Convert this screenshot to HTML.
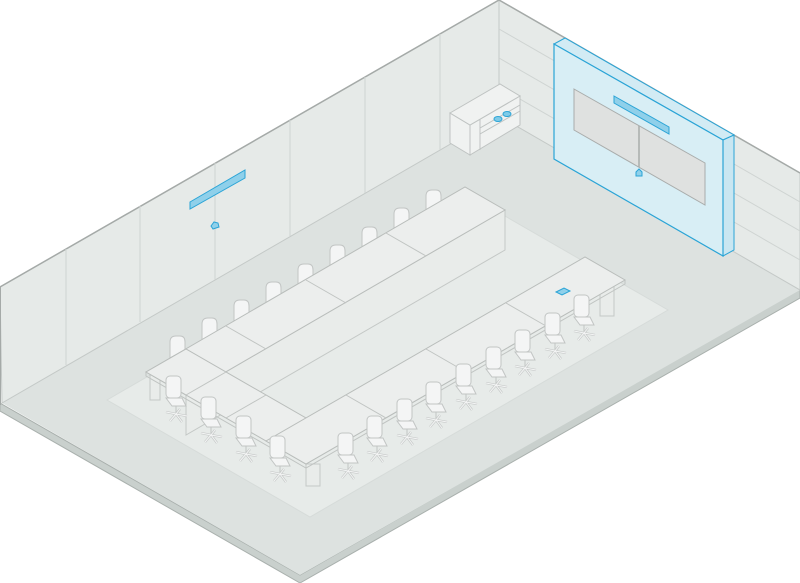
<!DOCTYPE html>
<html><head><meta charset="utf-8"><style>html,body{margin:0;padding:0;background:#fff}svg{display:block}</style></head>
<body>
<svg width="800" height="583" viewBox="0 0 800 583" xmlns="http://www.w3.org/2000/svg">
<defs>
<g id="fc" fill="#f4f5f5" stroke="#c2c5c4" stroke-width="1">
 <rect x="0" y="0" width="15" height="22" rx="4"/>
 <path d="M0,22 L6,30 L20,30 L16,22 Z"/>
 <line x1="10" y1="30" x2="10" y2="37"/>
 <path d="M10,38 L0,36 M10,38 L4,45 M10,38 L16,46 M10,38 L21,40 M10,38 L14,33" stroke-width="2.4" stroke="#c8cbca"/>
 <path d="M10,38 L0,36 M10,38 L4,45 M10,38 L16,46 M10,38 L21,40 M10,38 L14,33" stroke-width="1" stroke="#f4f5f5"/>
</g>
<g id="bc" fill="#f4f5f5" stroke="#c2c5c4" stroke-width="1">
 <path d="M0,22 L0,6 Q0,0 6,0 L10,0 Q15,0 15,6 L15,14 Z"/>
</g>
</defs>
<!-- slab -->
<polygon points="0,403 300,575 800,288 800,298 300,583 0,411" fill="#c9d0cd" stroke="#a9b0ad" stroke-width="1"/>
<!-- floor -->
<polygon points="2,403 499,116 800,290 300,575" fill="#dde2e0"/>
<!-- walls -->
<polygon points="0,287 499,0 499,116 2,403" fill="#e6eae8" stroke="#c4c9c7" stroke-width="1"/>
<polygon points="499,0 800,173 800,290 499,116" fill="#e6eae8" stroke="#c4c9c7" stroke-width="1"/>
<polyline points="0,287 499,0 800,173" fill="none" stroke="#a5aaa8" stroke-width="1.5"/>
<line x1="0" y1="287" x2="0" y2="405" stroke="#a5aaa8" stroke-width="2"/>
<g stroke="#cfd4d2" stroke-width="1">
 <line x1="66" y1="249" x2="66" y2="365"/>
 <line x1="140" y1="206" x2="140" y2="322"/>
 <line x1="215" y1="163" x2="215" y2="280"/>
 <line x1="290" y1="120" x2="290" y2="236"/>
 <line x1="365" y1="77" x2="365" y2="193"/>
 <line x1="440" y1="34" x2="440" y2="150"/>
 <line x1="499" y1="29" x2="800" y2="202"/>
 <line x1="499" y1="58" x2="800" y2="231"/>
 <line x1="499" y1="87" x2="800" y2="260"/>
</g>
<!-- carpet -->
<polygon points="107,400 465,193 668,310 310,517" fill="#e7ebe9" stroke="#d6dbd9"/>
<!-- cabinet -->
<g stroke="#bfc3c2" stroke-width="1" fill="#f0f2f1">
 <polygon points="450,113 470,125 470,155 450,143"/>
 <polygon points="470,125 520,96 520,125 470,155"/>
 <polygon points="450,113 500,84 520,96 470,125"/>
 <polyline points="480,119 480,150" fill="none"/>
 <polyline points="480,128 520,105 M480,134 520,111" fill="none"/>
 <path d="M480,134 L520,111" fill="none"/>
</g>
<g fill="#7fcbe8" stroke="#2aa4d6" stroke-width="1"><ellipse cx="498" cy="119" rx="4" ry="2.5"/><ellipse cx="507" cy="114" rx="4" ry="2.5"/></g>
<!-- display wall -->
<polygon points="554,44 565,38 734,135 723,140" fill="#d2ebf4" stroke="#2aa4d6"/>
<polygon points="723,140 734,135 734,250 723,256" fill="#c9e6f1" stroke="#2aa4d6"/>
<polygon points="554,44 723,140 723,256 554,159" fill="#d8eef5" stroke="#2aa4d6" stroke-width="1.2"/>
<polygon points="574,89 705,163 705,205 574,130" fill="#dfe1e0" stroke="#a9acab"/>
<line x1="639" y1="126" x2="639" y2="167" stroke="#a9acab" stroke-width="1.5"/>
<polygon points="614,96 669,127 669,134 614,103" fill="#8fd0ea" stroke="#2aa4d6"/>
<path d="M636,172 l3,-3 l3,3 l0,4 l-6,0 z" fill="#8fd0ea" stroke="#2aa4d6"/>
<!-- left wall devices -->
<polygon points="190,202 245,170 245,178 190,209" fill="#8fd0ea" stroke="#2aa4d6"/>
<path d="M211,226 l3,-4 l4,1 l1,4 l-6,2 z" fill="#8fd0ea" stroke="#2aa4d6"/>
<!-- back chairs -->
<use href="#bc" x="170" y="336"/><use href="#bc" x="202" y="318"/><use href="#bc" x="234" y="300"/>
<use href="#bc" x="266" y="282"/><use href="#bc" x="298" y="264"/><use href="#bc" x="330" y="245"/>
<use href="#bc" x="362" y="227"/><use href="#bc" x="394" y="208"/><use href="#bc" x="426" y="190"/>
<!-- panels/legs -->
<g fill="#e9ecea" stroke="#c4c8c6">
 <polygon points="186,395 505,210 505,250 186,435"/>
 <polygon points="346,441 585,303 585,262 346,400"/>
 <rect x="150" y="375" width="10" height="25"/>
 <rect x="306" y="464" width="14" height="22"/>
 <rect x="600" y="286" width="14" height="30"/>
</g>
<!-- table tops -->
<g fill="#eceeed" stroke="#b9bdbb" stroke-width="1">
 <polygon points="146,372 465,187 505,210 186,395"/>
 <polygon points="146,372 306,464 346,441 186,349"/>
 <polygon points="306,464 625,280 585,257 266,441"/>
</g>
<g stroke="#c0c4c2" fill="none">
 <line x1="226" y1="326" x2="266" y2="349"/>
 <line x1="306" y1="280" x2="346" y2="303"/>
 <line x1="386" y1="233" x2="426" y2="256"/>
 <line x1="186" y1="395" x2="226" y2="372"/>
 <line x1="226" y1="418" x2="266" y2="395"/>
 <line x1="346" y1="395" x2="386" y2="418"/>
 <line x1="426" y1="349" x2="466" y2="372"/>
 <line x1="506" y1="303" x2="546" y2="326"/>
 <polyline points="146,372 146,376 306,468 625,284 625,280"/>
</g>
<path d="M556,292 l8,-4 l6,3 l-8,4 z" fill="#8fd0ea" stroke="#2aa4d6"/>
<!-- front chairs -->
<use href="#fc" x="166" y="376"/><use href="#fc" x="201" y="397"/><use href="#fc" x="236" y="416"/><use href="#fc" x="270" y="436"/>
<use href="#fc" x="338" y="433"/><use href="#fc" x="367" y="416"/><use href="#fc" x="397" y="399"/><use href="#fc" x="426" y="382"/>
<use href="#fc" x="456" y="364"/><use href="#fc" x="486" y="347"/><use href="#fc" x="515" y="330"/><use href="#fc" x="545" y="313"/><use href="#fc" x="574" y="295"/>
</svg>
</body></html>
